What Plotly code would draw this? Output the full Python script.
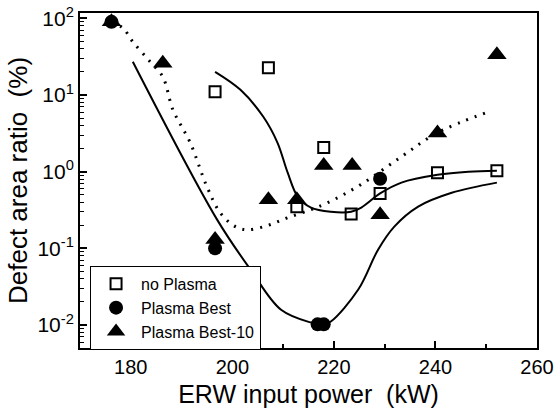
import plotly.graph_objects as go

# Measured defect area ratio (%) versus ERW input power (kW)
no_plasma_x = [196.6, 207.1, 212.7, 218.0, 223.4, 229.1, 240.4, 252.1]
no_plasma_y = [11.0, 22.7, 0.35, 2.06, 0.28, 0.52, 0.97, 1.03]

best_x = [176.2, 196.6, 216.8, 218.0, 229.1]
best_y = [90.0, 0.10, 0.0102, 0.0102, 0.81]

best10_x = [176.2, 186.3, 196.6, 207.1, 212.7, 218.0, 223.6, 229.1, 240.4, 252.1]
best10_y = [90.0, 26.0, 0.13, 0.43, 0.43, 1.2, 1.2, 0.275, 3.2, 33.5]

# Trend curves (hand-fitted guides)
fit_no_plasma_x = [196.6, 201.6, 206.1, 208.9, 210.9, 212.9, 215.5, 219.4, 223.4, 225.4,
                   229.1, 233.3, 240.4, 246.5, 252.1]
fit_no_plasma_y = [20.1, 11.7, 5.2, 2.38, 0.97, 0.47, 0.34, 0.30, 0.30, 0.34,
                   0.52, 0.72, 0.91, 1.0, 1.03]

fit_best_x = [180.4, 197.0, 203.6, 209.6, 215.6, 217.8, 219.4, 224.8, 228.7, 231.9,
              236.6, 243.2, 252.1]
fit_best_y = [27.2, 0.237, 0.0527, 0.0158, 0.0107, 0.0101, 0.0111, 0.029, 0.096, 0.192,
              0.35, 0.53, 0.72]

fit_best10_x = [176.2, 178.4, 180.4, 183.8, 186.3, 188.3, 191.7, 195.0, 197.6, 200.6,
                203.0, 206.9, 210.9, 215.5, 218.8, 225.3, 233.3, 240.4, 250.5]
fit_best10_y = [87.7, 75.3, 49.5, 27.2, 17.3, 6.43, 2.39, 0.637, 0.292, 0.192,
                0.175, 0.198, 0.251, 0.320, 0.394, 0.678, 1.57, 3.22, 6.05]

x_ticks = [180, 200, 220, 240, 260]
y_tickvals = [0.01, 0.1, 1, 10, 100]
y_ticktext = ["10<sup>-2</sup>", "10<sup>-1</sup>", "10<sup>0</sup>", "10<sup>1</sup>", "10<sup>2</sup>"]

FONT = "Arial, Liberation Sans, sans-serif"
NBSP = "\u00a0"

fig = go.Figure()

fig.add_trace(go.Scatter(x=fit_no_plasma_x, y=fit_no_plasma_y, mode="lines",
                         line=dict(color="black", width=2, shape="spline", smoothing=1.0),
                         showlegend=False, hoverinfo="skip"))
fig.add_trace(go.Scatter(x=fit_best_x, y=fit_best_y, mode="lines",
                         line=dict(color="black", width=2, shape="spline", smoothing=1.0),
                         showlegend=False, hoverinfo="skip"))
fig.add_trace(go.Scatter(x=fit_best10_x, y=fit_best10_y, mode="lines",
                         line=dict(color="black", width=3, shape="spline", smoothing=1.0,
                                   dash="2px,7px"),
                         showlegend=False, hoverinfo="skip"))

fig.add_trace(go.Scatter(x=no_plasma_x, y=no_plasma_y, mode="markers", name="no Plasma",
                         marker=dict(symbol="square-open", size=11, color="black",
                                     line=dict(width=2, color="black"))))
fig.add_trace(go.Scatter(x=best_x, y=best_y, mode="markers", name="Plasma Best",
                         marker=dict(symbol="circle", size=14, color="black")))
fig.add_trace(go.Scatter(x=best10_x, y=best10_y, mode="markers", name="Plasma Best-10",
                         marker=dict(symbol="triangle-up", size=17, color="black")))

fig.update_layout(
    width=555, height=410,
    margin=dict(l=80, r=18, t=13, b=62),
    paper_bgcolor="white", plot_bgcolor="white",
    font=dict(family=FONT, color="black"),
    legend=dict(x=0.022, y=0.245, xanchor="left", yanchor="top",
                bordercolor="black", borderwidth=1, bgcolor="white",
                font=dict(size=16, family=FONT), tracegroupgap=0,
                itemsizing="trace", itemwidth=40),
)

fig.update_xaxes(
    range=[170, 260], tickvals=x_ticks, automargin=False,
    ticks="inside", ticklen=7, tickwidth=1.5, tickcolor="black",
    minor=dict(tickvals=[170, 190, 210, 230, 250], ticks="inside", ticklen=4,
               tickwidth=1.5, tickcolor="black", showgrid=False),
    showline=True, linewidth=2, linecolor="black", mirror=True,
    showgrid=False, zeroline=False,
    tickfont=dict(size=20, family=FONT),
    title=dict(text="ERW input power" + NBSP * 2 + "(kW)",
               font=dict(size=25, family=FONT), standoff=8),
)

minor_y = [m * 10.0 ** e for e in range(-3, 2) for m in range(2, 10)]
minor_y = [v for v in minor_y if 0.005 <= v <= 117]

fig.update_yaxes(
    type="log", range=[-2.3, 2.07], automargin=False,
    tickvals=y_tickvals, ticktext=y_ticktext,
    ticks="inside", ticklen=7, tickwidth=1.5, tickcolor="black",
    minor=dict(tickvals=minor_y, ticks="inside", ticklen=4, tickwidth=1.2,
               tickcolor="black", showgrid=False),
    showline=True, linewidth=2, linecolor="black", mirror=True,
    showgrid=False, zeroline=False,
    tickfont=dict(size=21, family=FONT),
    title=dict(text="Defect area ratio" + NBSP * 2 + "(%)",
               font=dict(size=26, family=FONT), standoff=2),
)

fig.write_html("out.html")
